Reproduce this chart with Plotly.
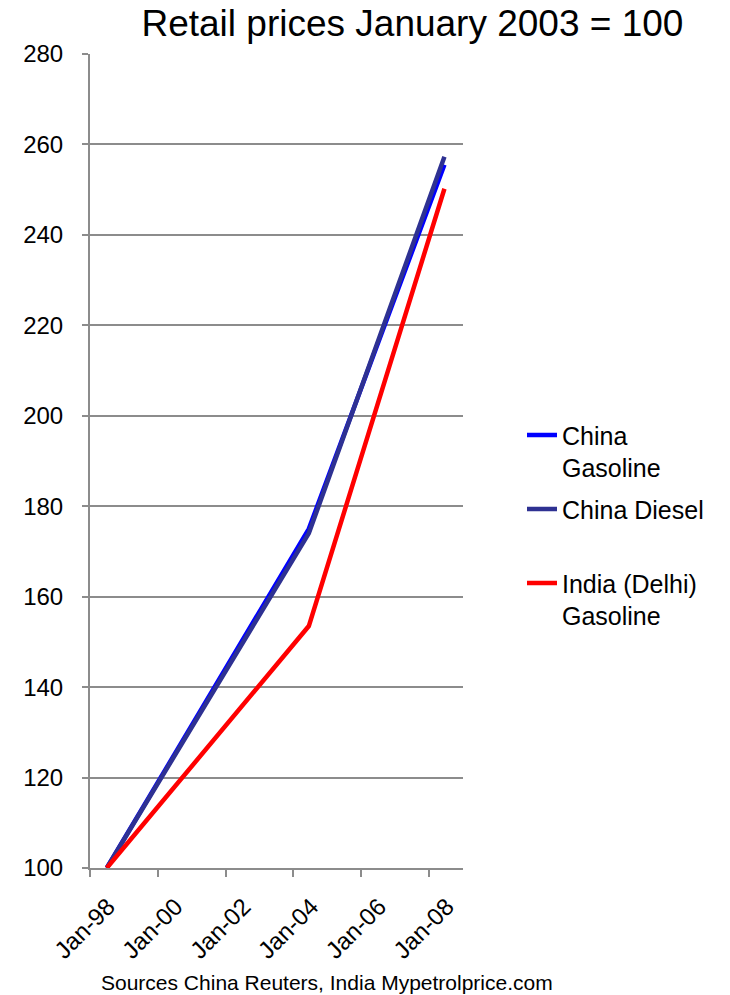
import plotly.graph_objects as go

# Index values (January 2003 = 100) at each observation date
dates = ["1998-07-01", "2004-06-15", "2008-06-15"]
china_gasoline = [100, 175, 255.5]
china_diesel = [100, 174, 257.3]
india_gasoline = [100, 153.5, 250.2]

tick_dates = ["1998-01-01", "2000-01-01", "2002-01-01", "2004-01-01", "2006-01-01", "2008-01-01"]
tick_labels = ["Jan-98", "Jan-00", "Jan-02", "Jan-04", "Jan-06", "Jan-08"]

FONT = "Liberation Sans, Arial, sans-serif"
GRID = "#8c8c8c"

series = [
    ("China<br>Gasoline", china_gasoline, "#0000ff"),
    # trailing blank line keeps every legend entry two lines tall
    ("China Diesel<br>&nbsp;", china_diesel, "#2e3192"),
    ("India (Delhi)<br>Gasoline", india_gasoline, "#ff0000"),
]

fig = go.Figure()
for i, (name, values, color) in enumerate(series):
    fig.add_trace(go.Scatter(x=dates, y=values, mode="lines", name=name,
                             legendgroup=f"g{i}",
                             line=dict(color=color, width=4.5)))

fig.update_layout(
    width=730, height=995,
    margin=dict(l=90, r=267, t=54, b=127),
    paper_bgcolor="white", plot_bgcolor="white",
    font=dict(family=FONT, size=24, color="black"),
    title=dict(text="Retail prices January 2003 = 100", x=0.565, xanchor="center",
               y=0.977, yanchor="middle", font=dict(size=37, family=FONT)),
    showlegend=True,
    legend=dict(x=(522 - 90) / 373, xanchor="left", y=0.56, yanchor="top",
                valign="top", font=dict(size=25, family=FONT), tracegroupgap=6,
                bgcolor="rgba(0,0,0,0)"),
    xaxis=dict(type="date", range=["1998-01-01", "2009-01-01"],
               tickvals=tick_dates, ticktext=tick_labels, tickangle=-45,
               ticks="outside", ticklen=7, tickwidth=2, tickcolor=GRID,
               ticklabelshift=18, ticklabelstandoff=6,
               showline=True, linecolor=GRID, linewidth=2, showgrid=False,
               tickfont=dict(size=24, family=FONT)),
    yaxis=dict(range=[100, 280], dtick=20, tick0=100,
               ticks="outside", ticklen=6, tickwidth=2, tickcolor=GRID,
               ticklabelstandoff=14,
               showline=True, linecolor=GRID, linewidth=2,
               showgrid=True, gridcolor=GRID, gridwidth=2, zeroline=False,
               tickfont=dict(size=24, family=FONT)),
    annotations=[dict(text="Sources China Reuters, India Mypetrolprice.com",
                      xref="paper", yref="paper", x=0.635, y=-0.141,
                      xanchor="center", yanchor="middle", showarrow=False,
                      font=dict(size=21, family=FONT))],
)

fig.write_html("out.html")
